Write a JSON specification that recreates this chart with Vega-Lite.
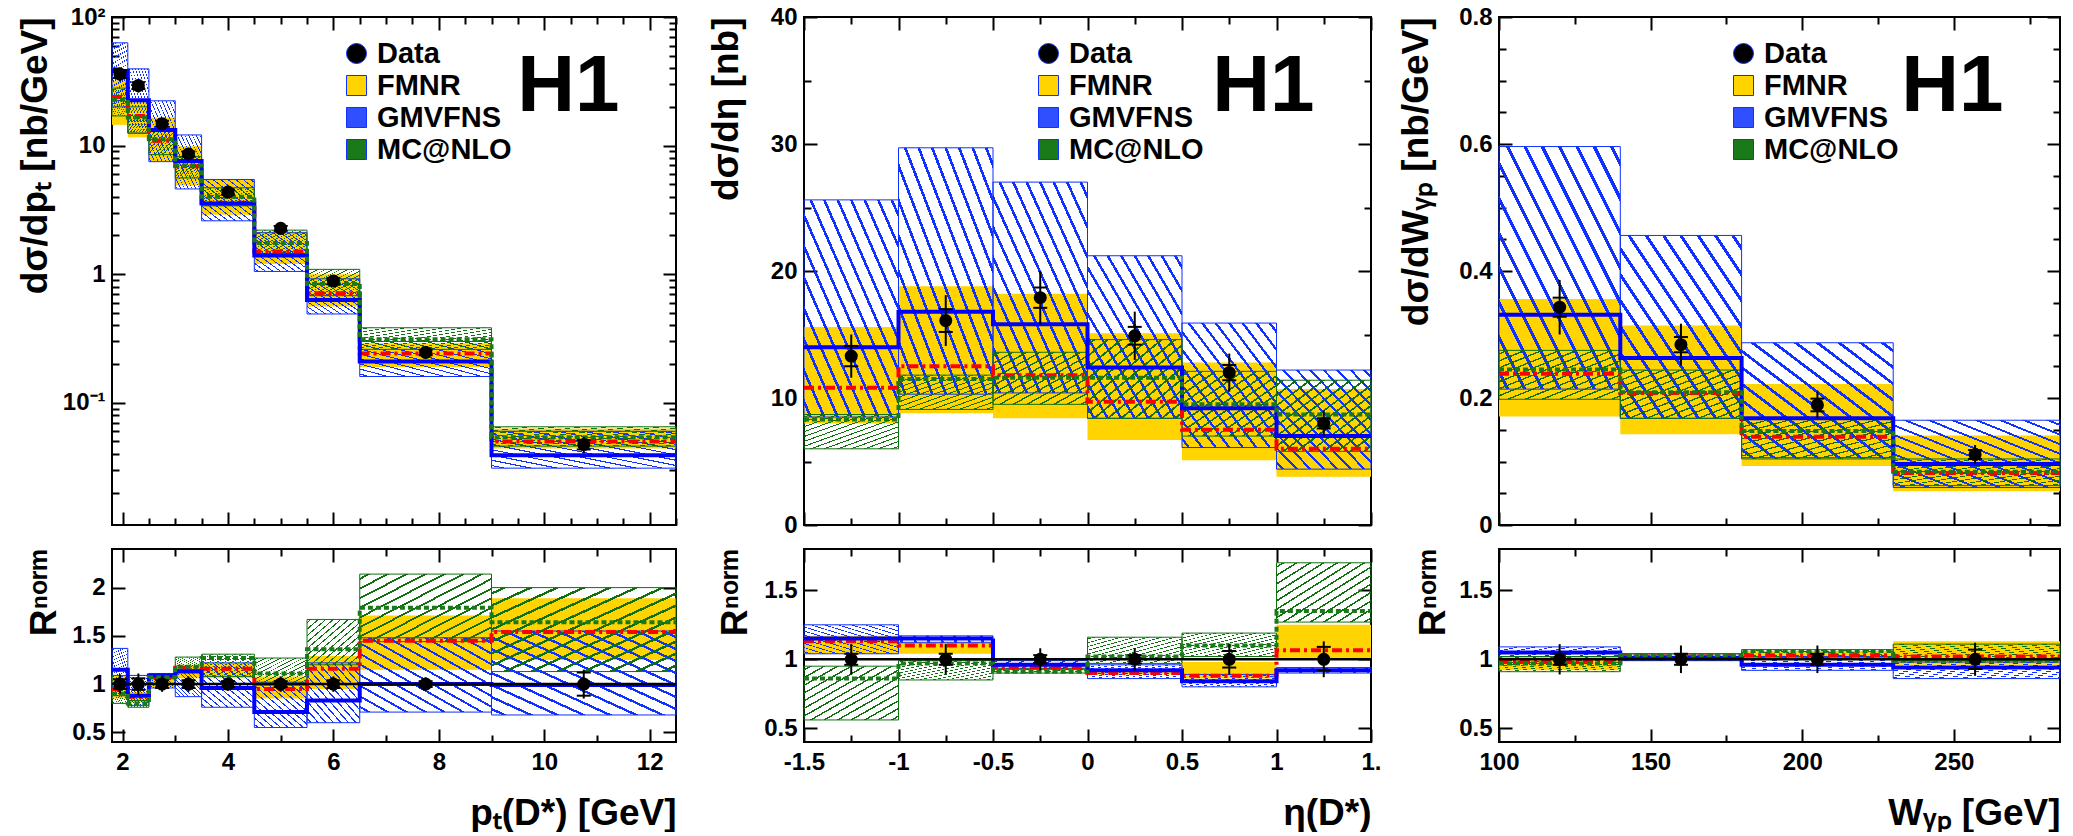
{
"$schema":"https://vega.github.io/schema/vega-lite/v6.json",
"background":"white",
"padding":{"left":15,"top":4,"right":0,"bottom":0},
"config":{
 "view":{"stroke":"black","strokeWidth":2},
 "axis":{"domain":false,"ticks":false,"grid":true,"gridColor":"black","gridWidth":2,"gridOpacity":1,"zindex":1,"labelFont":"Liberation Sans","labelFontWeight":"bold","labelFontSize":24,"labelColor":"black","labelPadding":8,"titleFont":"Liberation Sans","titleFontWeight":"bold","titleFontSize":37,"titleColor":"black","labelOverlap":false,"labelFlush":false},
 "legend":{"labelFont":"Liberation Sans","labelFontWeight":"bold","labelFontSize":29,"labelColor":"black","symbolSize":400,"rowPadding":2,"padding":0,"labelOffset":6,"symbolStrokeWidth":0},
 "rect":{"stroke":"#1030ff","strokeWidth":1,"color":{"gradient":"linear","x1":0,"y1":1,"x2":1,"y2":0,"stops":[
         {"offset":0.0282,"color":"rgba(0,0,0,0)"},{"offset":0.0282,"color":"#1030ff"},{"offset":0.0432,"color":"#1030ff"},{"offset":0.0432,"color":"rgba(0,0,0,0)"},
         {"offset":0.0996,"color":"rgba(0,0,0,0)"},{"offset":0.0996,"color":"#1030ff"},{"offset":0.1146,"color":"#1030ff"},{"offset":0.1146,"color":"rgba(0,0,0,0)"},
         {"offset":0.1711,"color":"rgba(0,0,0,0)"},{"offset":0.1711,"color":"#1030ff"},{"offset":0.1861,"color":"#1030ff"},{"offset":0.1861,"color":"rgba(0,0,0,0)"},
         {"offset":0.2425,"color":"rgba(0,0,0,0)"},{"offset":0.2425,"color":"#1030ff"},{"offset":0.2575,"color":"#1030ff"},{"offset":0.2575,"color":"rgba(0,0,0,0)"},
         {"offset":0.3139,"color":"rgba(0,0,0,0)"},{"offset":0.3139,"color":"#1030ff"},{"offset":0.3289,"color":"#1030ff"},{"offset":0.3289,"color":"rgba(0,0,0,0)"},
         {"offset":0.3854,"color":"rgba(0,0,0,0)"},{"offset":0.3854,"color":"#1030ff"},{"offset":0.4004,"color":"#1030ff"},{"offset":0.4004,"color":"rgba(0,0,0,0)"},
         {"offset":0.4568,"color":"rgba(0,0,0,0)"},{"offset":0.4568,"color":"#1030ff"},{"offset":0.4718,"color":"#1030ff"},{"offset":0.4718,"color":"rgba(0,0,0,0)"},
         {"offset":0.5282,"color":"rgba(0,0,0,0)"},{"offset":0.5282,"color":"#1030ff"},{"offset":0.5432,"color":"#1030ff"},{"offset":0.5432,"color":"rgba(0,0,0,0)"},
         {"offset":0.5996,"color":"rgba(0,0,0,0)"},{"offset":0.5996,"color":"#1030ff"},{"offset":0.6146,"color":"#1030ff"},{"offset":0.6146,"color":"rgba(0,0,0,0)"},
         {"offset":0.6711,"color":"rgba(0,0,0,0)"},{"offset":0.6711,"color":"#1030ff"},{"offset":0.6861,"color":"#1030ff"},{"offset":0.6861,"color":"rgba(0,0,0,0)"},
         {"offset":0.7425,"color":"rgba(0,0,0,0)"},{"offset":0.7425,"color":"#1030ff"},{"offset":0.7575,"color":"#1030ff"},{"offset":0.7575,"color":"rgba(0,0,0,0)"},
         {"offset":0.8139,"color":"rgba(0,0,0,0)"},{"offset":0.8139,"color":"#1030ff"},{"offset":0.8289,"color":"#1030ff"},{"offset":0.8289,"color":"rgba(0,0,0,0)"},
         {"offset":0.8854,"color":"rgba(0,0,0,0)"},{"offset":0.8854,"color":"#1030ff"},{"offset":0.9004,"color":"#1030ff"},{"offset":0.9004,"color":"rgba(0,0,0,0)"},
         {"offset":0.9568,"color":"rgba(0,0,0,0)"},{"offset":0.9568,"color":"#1030ff"},{"offset":0.9718,"color":"#1030ff"},{"offset":0.9718,"color":"rgba(0,0,0,0)"}]}},
 "bar":{"stroke":"#107010","strokeWidth":1,"color":{"gradient":"linear","x1":0,"y1":0,"x2":1,"y2":1,"stops":[
         {"offset":0.0282,"color":"rgba(0,0,0,0)"},{"offset":0.0282,"color":"#107010"},{"offset":0.0432,"color":"#107010"},{"offset":0.0432,"color":"rgba(0,0,0,0)"},
         {"offset":0.0996,"color":"rgba(0,0,0,0)"},{"offset":0.0996,"color":"#107010"},{"offset":0.1146,"color":"#107010"},{"offset":0.1146,"color":"rgba(0,0,0,0)"},
         {"offset":0.1711,"color":"rgba(0,0,0,0)"},{"offset":0.1711,"color":"#107010"},{"offset":0.1861,"color":"#107010"},{"offset":0.1861,"color":"rgba(0,0,0,0)"},
         {"offset":0.2425,"color":"rgba(0,0,0,0)"},{"offset":0.2425,"color":"#107010"},{"offset":0.2575,"color":"#107010"},{"offset":0.2575,"color":"rgba(0,0,0,0)"},
         {"offset":0.3139,"color":"rgba(0,0,0,0)"},{"offset":0.3139,"color":"#107010"},{"offset":0.3289,"color":"#107010"},{"offset":0.3289,"color":"rgba(0,0,0,0)"},
         {"offset":0.3854,"color":"rgba(0,0,0,0)"},{"offset":0.3854,"color":"#107010"},{"offset":0.4004,"color":"#107010"},{"offset":0.4004,"color":"rgba(0,0,0,0)"},
         {"offset":0.4568,"color":"rgba(0,0,0,0)"},{"offset":0.4568,"color":"#107010"},{"offset":0.4718,"color":"#107010"},{"offset":0.4718,"color":"rgba(0,0,0,0)"},
         {"offset":0.5282,"color":"rgba(0,0,0,0)"},{"offset":0.5282,"color":"#107010"},{"offset":0.5432,"color":"#107010"},{"offset":0.5432,"color":"rgba(0,0,0,0)"},
         {"offset":0.5996,"color":"rgba(0,0,0,0)"},{"offset":0.5996,"color":"#107010"},{"offset":0.6146,"color":"#107010"},{"offset":0.6146,"color":"rgba(0,0,0,0)"},
         {"offset":0.6711,"color":"rgba(0,0,0,0)"},{"offset":0.6711,"color":"#107010"},{"offset":0.6861,"color":"#107010"},{"offset":0.6861,"color":"rgba(0,0,0,0)"},
         {"offset":0.7425,"color":"rgba(0,0,0,0)"},{"offset":0.7425,"color":"#107010"},{"offset":0.7575,"color":"#107010"},{"offset":0.7575,"color":"rgba(0,0,0,0)"},
         {"offset":0.8139,"color":"rgba(0,0,0,0)"},{"offset":0.8139,"color":"#107010"},{"offset":0.8289,"color":"#107010"},{"offset":0.8289,"color":"rgba(0,0,0,0)"},
         {"offset":0.8854,"color":"rgba(0,0,0,0)"},{"offset":0.8854,"color":"#107010"},{"offset":0.9004,"color":"#107010"},{"offset":0.9004,"color":"rgba(0,0,0,0)"},
         {"offset":0.9568,"color":"rgba(0,0,0,0)"},{"offset":0.9568,"color":"#107010"},{"offset":0.9718,"color":"#107010"},{"offset":0.9718,"color":"rgba(0,0,0,0)"}]}}
},
"datasets":{
 "ptT":[
  {"b":1,"x1":1.8,"x2":2.1,"model":"FMNR","lo":14.5,"c":23.9,"hi":32},
  {"b":2,"x1":2.1,"x2":2.5,"model":"FMNR","lo":11.6,"c":17,"hi":22},
  {"b":3,"x1":2.5,"x2":3,"model":"FMNR","lo":7.6,"c":10.9,"hi":16.5},
  {"b":4,"x1":3,"x2":3.5,"model":"FMNR","lo":4.9,"c":6.9,"hi":9.9},
  {"b":5,"x1":3.5,"x2":4.5,"model":"FMNR","lo":2.9,"c":3.6,"hi":5.4},
  {"b":6,"x1":4.5,"x2":5.5,"model":"FMNR","lo":1.2,"c":1.5,"hi":2.15},
  {"b":7,"x1":5.5,"x2":6.5,"model":"FMNR","lo":0.56,"c":0.71,"hi":1.0},
  {"b":8,"x1":6.5,"x2":9,"model":"FMNR","lo":0.19,"c":0.242,"hi":0.29},
  {"b":9,"x1":9,"x2":12.5,"model":"FMNR","lo":0.044,"c":0.05,"hi":0.063},
  {"b":1,"x1":1.8,"x2":2.1,"model":"GMVFNS","lo":20,"c":38,"hi":63},
  {"b":2,"x1":2.1,"x2":2.5,"model":"GMVFNS","lo":12.5,"c":22.5,"hi":39.5},
  {"b":3,"x1":2.5,"x2":3,"model":"GMVFNS","lo":7.5,"c":13.2,"hi":22.3},
  {"b":4,"x1":3,"x2":3.5,"model":"GMVFNS","lo":4.6,"c":7.6,"hi":12.1},
  {"b":5,"x1":3.5,"x2":4.5,"model":"GMVFNS","lo":2.6,"c":3.55,"hi":5.45},
  {"b":6,"x1":4.5,"x2":5.5,"model":"GMVFNS","lo":1.05,"c":1.4,"hi":2.1},
  {"b":7,"x1":5.5,"x2":6.5,"model":"GMVFNS","lo":0.49,"c":0.63,"hi":0.92},
  {"b":8,"x1":6.5,"x2":9,"model":"GMVFNS","lo":0.16,"c":0.209,"hi":0.3},
  {"b":9,"x1":9,"x2":12.5,"model":"GMVFNS","lo":0.031,"c":0.039,"hi":0.06},
  {"b":1,"x1":1.8,"x2":2.1,"model":"MC@NLO","lo":17,"c":22.7,"hi":28},
  {"b":2,"x1":2.1,"x2":2.5,"model":"MC@NLO","lo":12.5,"c":16.5,"hi":20},
  {"b":3,"x1":2.5,"x2":3,"model":"MC@NLO","lo":8.5,"c":11.2,"hi":13.5},
  {"b":4,"x1":3,"x2":3.5,"model":"MC@NLO","lo":5.6,"c":7.0,"hi":8.2},
  {"b":5,"x1":3.5,"x2":4.5,"model":"MC@NLO","lo":3.4,"c":4.0,"hi":4.7},
  {"b":6,"x1":4.5,"x2":5.5,"model":"MC@NLO","lo":1.45,"c":1.75,"hi":2.2},
  {"b":7,"x1":5.5,"x2":6.5,"model":"MC@NLO","lo":0.68,"c":0.84,"hi":1.09},
  {"b":8,"x1":6.5,"x2":9,"model":"MC@NLO","lo":0.26,"c":0.312,"hi":0.383},
  {"b":9,"x1":9,"x2":12.5,"model":"MC@NLO","lo":0.046,"c":0.054,"hi":0.065}
 ],
 "ptD":[
  {"model":"Data","x":1.95,"y":36,"lo":31.5,"hi":40.5,"slo":33.5,"shi":38.5},
  {"model":"Data","x":2.3,"y":29.3,"lo":25.8,"hi":32.8,"slo":27.5,"shi":31.1},
  {"model":"Data","x":2.75,"y":14.8,"lo":13.2,"hi":16.4,"slo":14.0,"shi":15.6},
  {"model":"Data","x":3.25,"y":8.6,"lo":7.7,"hi":9.5,"slo":8.2,"shi":9.0},
  {"model":"Data","x":4.0,"y":4.35,"lo":3.9,"hi":4.8,"slo":4.15,"shi":4.55},
  {"model":"Data","x":5.0,"y":2.27,"lo":2.03,"hi":2.51,"slo":2.17,"shi":2.37},
  {"model":"Data","x":6.0,"y":0.885,"lo":0.795,"hi":0.975,"slo":0.835,"shi":0.935},
  {"model":"Data","x":7.75,"y":0.246,"lo":0.22,"hi":0.272,"slo":0.234,"shi":0.258},
  {"model":"Data","x":10.75,"y":0.0473,"lo":0.0403,"hi":0.0543,"slo":0.0433,"shi":0.0513}
 ],
 "ptR":[
  {"b":1,"x1":1.8,"x2":2.1,"model":"FMNR","lo":0.85,"c":0.95,"hi":1.09},
  {"b":2,"x1":2.1,"x2":2.5,"model":"FMNR","lo":0.81,"c":0.87,"hi":0.92},
  {"b":3,"x1":2.5,"x2":3,"model":"FMNR","lo":0.97,"c":1.07,"hi":1.1},
  {"b":4,"x1":3,"x2":3.5,"model":"FMNR","lo":1.06,"c":1.17,"hi":1.2},
  {"b":5,"x1":3.5,"x2":4.5,"model":"FMNR","lo":1.06,"c":1.16,"hi":1.22},
  {"b":6,"x1":4.5,"x2":5.5,"model":"FMNR","lo":0.85,"c":0.95,"hi":1.08},
  {"b":7,"x1":5.5,"x2":6.5,"model":"FMNR","lo":0.95,"c":1.16,"hi":1.29},
  {"b":8,"x1":6.5,"x2":9,"model":"FMNR","lo":1.15,"c":1.45,"hi":1.71},
  {"b":9,"x1":9,"x2":12.5,"model":"FMNR","lo":1.25,"c":1.54,"hi":1.89},
  {"b":1,"x1":1.8,"x2":2.1,"model":"GMVFNS","lo":0.88,"c":1.15,"hi":1.37},
  {"b":2,"x1":2.1,"x2":2.5,"model":"GMVFNS","lo":0.78,"c":0.88,"hi":1.09},
  {"b":3,"x1":2.5,"x2":3,"model":"GMVFNS","lo":0.96,"c":1.09,"hi":1.11},
  {"b":4,"x1":3,"x2":3.5,"model":"GMVFNS","lo":0.87,"c":1.13,"hi":1.15},
  {"b":5,"x1":3.5,"x2":4.5,"model":"GMVFNS","lo":0.76,"c":0.96,"hi":1.22},
  {"b":6,"x1":4.5,"x2":5.5,"model":"GMVFNS","lo":0.55,"c":0.71,"hi":1.02},
  {"b":7,"x1":5.5,"x2":6.5,"model":"GMVFNS","lo":0.6,"c":0.83,"hi":1.22},
  {"b":8,"x1":6.5,"x2":9,"model":"GMVFNS","lo":0.71,"c":1.0,"hi":1.48},
  {"b":9,"x1":9,"x2":12.5,"model":"GMVFNS","lo":0.68,"c":0.99,"hi":1.55},
  {"b":1,"x1":1.8,"x2":2.1,"model":"MC@NLO","lo":0.8,"c":0.9,"hi":1.09},
  {"b":2,"x1":2.1,"x2":2.5,"model":"MC@NLO","lo":0.76,"c":0.8,"hi":0.83},
  {"b":3,"x1":2.5,"x2":3,"model":"MC@NLO","lo":1.0,"c":1.07,"hi":1.1},
  {"b":4,"x1":3,"x2":3.5,"model":"MC@NLO","lo":1.12,"c":1.18,"hi":1.28},
  {"b":5,"x1":3.5,"x2":4.5,"model":"MC@NLO","lo":1.08,"c":1.27,"hi":1.31},
  {"b":6,"x1":4.5,"x2":5.5,"model":"MC@NLO","lo":0.99,"c":1.11,"hi":1.27},
  {"b":7,"x1":5.5,"x2":6.5,"model":"MC@NLO","lo":1.2,"c":1.36,"hi":1.67},
  {"b":8,"x1":6.5,"x2":9,"model":"MC@NLO","lo":1.44,"c":1.79,"hi":2.14},
  {"b":9,"x1":9,"x2":12.5,"model":"MC@NLO","lo":1.13,"c":1.64,"hi":2.0}
 ],
 "ptRD":[
  {"x":1.95,"y":1,"lo":0.9,"hi":1.1,"slo":0.95,"shi":1.05},
  {"x":2.3,"y":1,"lo":0.89,"hi":1.11,"slo":0.94,"shi":1.06},
  {"x":2.75,"y":1,"lo":0.92,"hi":1.08,"slo":0.96,"shi":1.04},
  {"x":3.25,"y":1,"lo":0.92,"hi":1.08,"slo":0.96,"shi":1.04},
  {"x":4.0,"y":1,"lo":0.93,"hi":1.07,"slo":0.97,"shi":1.03},
  {"x":5.0,"y":1,"lo":0.92,"hi":1.08,"slo":0.97,"shi":1.03},
  {"x":6.0,"y":1,"lo":0.92,"hi":1.08,"slo":0.96,"shi":1.04},
  {"x":7.75,"y":1,"lo":0.93,"hi":1.07,"slo":0.97,"shi":1.03},
  {"x":10.75,"y":1,"lo":0.85,"hi":1.15,"slo":0.88,"shi":1.12}
 ],
 "etaT":[
  {"b":1,"x1":-1.5,"x2":-1,"model":"FMNR","lo":8.0,"c":10.8,"hi":15.6},
  {"b":2,"x1":-1,"x2":-0.5,"model":"FMNR","lo":8.8,"c":12.5,"hi":18.8},
  {"b":3,"x1":-0.5,"x2":0,"model":"FMNR","lo":8.4,"c":11.8,"hi":18.2},
  {"b":4,"x1":0,"x2":0.5,"model":"FMNR","lo":6.7,"c":9.7,"hi":15.1},
  {"b":5,"x1":0.5,"x2":1,"model":"FMNR","lo":5.1,"c":7.5,"hi":12.8},
  {"b":6,"x1":1,"x2":1.5,"model":"FMNR","lo":3.8,"c":6.0,"hi":10.7},
  {"b":1,"x1":-1.5,"x2":-1,"model":"GMVFNS","lo":8.5,"c":14.0,"hi":25.6},
  {"b":2,"x1":-1,"x2":-0.5,"model":"GMVFNS","lo":10.3,"c":16.8,"hi":29.7},
  {"b":3,"x1":-0.5,"x2":0,"model":"GMVFNS","lo":10.4,"c":15.8,"hi":27.0},
  {"b":4,"x1":0,"x2":0.5,"model":"GMVFNS","lo":8.4,"c":12.4,"hi":21.2},
  {"b":5,"x1":0.5,"x2":1,"model":"GMVFNS","lo":6.1,"c":9.2,"hi":15.9},
  {"b":6,"x1":1,"x2":1.5,"model":"GMVFNS","lo":4.4,"c":7.0,"hi":12.2},
  {"b":1,"x1":-1.5,"x2":-1,"model":"MC@NLO","lo":6.0,"c":8.3,"hi":8.7},
  {"b":2,"x1":-1,"x2":-0.5,"model":"MC@NLO","lo":9.1,"c":11.5,"hi":11.8},
  {"b":3,"x1":-0.5,"x2":0,"model":"MC@NLO","lo":9.5,"c":11.6,"hi":13.6},
  {"b":4,"x1":0,"x2":0.5,"model":"MC@NLO","lo":8.4,"c":11.6,"hi":14.6},
  {"b":5,"x1":0.5,"x2":1,"model":"MC@NLO","lo":7.0,"c":9.5,"hi":12.1},
  {"b":6,"x1":1,"x2":1.5,"model":"MC@NLO","lo":5.8,"c":8.7,"hi":11.4}
 ],
 "etaD":[
  {"model":"Data","x":-1.25,"y":13.3,"lo":11.6,"hi":15.0,"slo":12.5,"shi":14.1},
  {"model":"Data","x":-0.75,"y":16.1,"lo":14.1,"hi":18.1,"slo":15.2,"shi":17.0},
  {"model":"Data","x":-0.25,"y":17.9,"lo":15.8,"hi":20.0,"slo":17.1,"shi":18.7},
  {"model":"Data","x":0.25,"y":14.9,"lo":13.0,"hi":16.8,"slo":14.2,"shi":15.6},
  {"model":"Data","x":0.75,"y":12.0,"lo":10.5,"hi":13.5,"slo":11.4,"shi":12.6},
  {"model":"Data","x":1.25,"y":8.0,"lo":7.0,"hi":9.0,"slo":7.6,"shi":8.4}
 ],
 "etaR":[
  {"b":1,"x1":-1.5,"x2":-1,"model":"FMNR","lo":1.04,"c":1.13,"hi":1.17},
  {"b":2,"x1":-1,"x2":-0.5,"model":"FMNR","lo":1.04,"c":1.1,"hi":1.13},
  {"b":3,"x1":-0.5,"x2":0,"model":"FMNR","lo":0.92,"c":0.94,"hi":0.97},
  {"b":4,"x1":0,"x2":0.5,"model":"FMNR","lo":0.89,"c":0.9,"hi":0.93},
  {"b":5,"x1":0.5,"x2":1,"model":"FMNR","lo":0.86,"c":0.88,"hi":0.98},
  {"b":6,"x1":1,"x2":1.5,"model":"FMNR","lo":1.01,"c":1.065,"hi":1.25},
  {"b":1,"x1":-1.5,"x2":-1,"model":"GMVFNS","lo":1.04,"c":1.15,"hi":1.25},
  {"b":2,"x1":-1,"x2":-0.5,"model":"GMVFNS","lo":1.12,"c":1.15,"hi":1.17},
  {"b":3,"x1":-0.5,"x2":0,"model":"GMVFNS","lo":0.93,"c":0.96,"hi":0.99},
  {"b":4,"x1":0,"x2":0.5,"model":"GMVFNS","lo":0.86,"c":0.92,"hi":0.96},
  {"b":5,"x1":0.5,"x2":1,"model":"GMVFNS","lo":0.8,"c":0.84,"hi":0.89},
  {"b":6,"x1":1,"x2":1.5,"model":"GMVFNS","lo":0.9,"c":0.92,"hi":0.94},
  {"b":1,"x1":-1.5,"x2":-1,"model":"MC@NLO","lo":0.56,"c":0.86,"hi":0.95},
  {"b":2,"x1":-1,"x2":-0.5,"model":"MC@NLO","lo":0.85,"c":0.97,"hi":0.99},
  {"b":3,"x1":-0.5,"x2":0,"model":"MC@NLO","lo":0.9,"c":0.91,"hi":0.93},
  {"b":4,"x1":0,"x2":0.5,"model":"MC@NLO","lo":0.97,"c":1.02,"hi":1.16},
  {"b":5,"x1":0.5,"x2":1,"model":"MC@NLO","lo":1.02,"c":1.1,"hi":1.19},
  {"b":6,"x1":1,"x2":1.5,"model":"MC@NLO","lo":1.27,"c":1.35,"hi":1.7}
 ],
 "etaRD":[
  {"x":-1.25,"y":1,"lo":0.89,"hi":1.11,"slo":0.96,"shi":1.04},
  {"x":-0.75,"y":1,"lo":0.89,"hi":1.11,"slo":0.96,"shi":1.04},
  {"x":-0.25,"y":1,"lo":0.92,"hi":1.08,"slo":0.97,"shi":1.03},
  {"x":0.25,"y":1,"lo":0.92,"hi":1.08,"slo":0.97,"shi":1.03},
  {"x":0.75,"y":1,"lo":0.89,"hi":1.11,"slo":0.94,"shi":1.06},
  {"x":1.25,"y":1,"lo":0.87,"hi":1.13,"slo":0.92,"shi":1.09}
 ],
 "wT":[
  {"b":1,"x1":100,"x2":140,"model":"FMNR","lo":0.171,"c":0.238,"hi":0.356},
  {"b":2,"x1":140,"x2":180,"model":"FMNR","lo":0.143,"c":0.208,"hi":0.314},
  {"b":3,"x1":180,"x2":230,"model":"FMNR","lo":0.093,"c":0.139,"hi":0.222},
  {"b":4,"x1":230,"x2":285,"model":"FMNR","lo":0.053,"c":0.082,"hi":0.141},
  {"b":1,"x1":100,"x2":140,"model":"GMVFNS","lo":0.214,"c":0.331,"hi":0.596},
  {"b":2,"x1":140,"x2":180,"model":"GMVFNS","lo":0.168,"c":0.263,"hi":0.456},
  {"b":3,"x1":180,"x2":230,"model":"GMVFNS","lo":0.106,"c":0.168,"hi":0.287},
  {"b":4,"x1":230,"x2":285,"model":"GMVFNS","lo":0.059,"c":0.096,"hi":0.165},
  {"b":1,"x1":100,"x2":140,"model":"MC@NLO","lo":0.198,"c":0.245,"hi":0.275},
  {"b":2,"x1":140,"x2":180,"model":"MC@NLO","lo":0.168,"c":0.209,"hi":0.244},
  {"b":3,"x1":180,"x2":230,"model":"MC@NLO","lo":0.104,"c":0.148,"hi":0.168},
  {"b":4,"x1":230,"x2":285,"model":"MC@NLO","lo":0.062,"c":0.084,"hi":0.104}
 ],
 "wD":[
  {"model":"Data","x":120,"y":0.343,"lo":0.3,"hi":0.386,"slo":0.328,"shi":0.358},
  {"model":"Data","x":160,"y":0.284,"lo":0.251,"hi":0.317,"slo":0.272,"shi":0.296},
  {"model":"Data","x":205,"y":0.189,"lo":0.168,"hi":0.21,"slo":0.179,"shi":0.199},
  {"model":"Data","x":257,"y":0.111,"lo":0.096,"hi":0.126,"slo":0.104,"shi":0.118}
 ],
 "wR":[
  {"b":1,"x1":100,"x2":140,"model":"FMNR","lo":0.92,"c":0.98,"hi":1.02},
  {"b":2,"x1":140,"x2":180,"model":"FMNR","lo":1.01,"c":1.02,"hi":1.03},
  {"b":3,"x1":180,"x2":230,"model":"FMNR","lo":1.01,"c":1.03,"hi":1.06},
  {"b":4,"x1":230,"x2":285,"model":"FMNR","lo":0.96,"c":1.02,"hi":1.13},
  {"b":1,"x1":100,"x2":140,"model":"GMVFNS","lo":1.02,"c":1.05,"hi":1.09},
  {"b":2,"x1":140,"x2":180,"model":"GMVFNS","lo":0.99,"c":1.01,"hi":1.04},
  {"b":3,"x1":180,"x2":230,"model":"GMVFNS","lo":0.92,"c":0.96,"hi":1.02},
  {"b":4,"x1":230,"x2":285,"model":"GMVFNS","lo":0.86,"c":0.94,"hi":0.98},
  {"b":1,"x1":100,"x2":140,"model":"MC@NLO","lo":0.91,"c":0.97,"hi":1.02},
  {"b":2,"x1":140,"x2":180,"model":"MC@NLO","lo":1.01,"c":1.03,"hi":1.04},
  {"b":3,"x1":180,"x2":230,"model":"MC@NLO","lo":1.01,"c":1.06,"hi":1.07},
  {"b":4,"x1":230,"x2":285,"model":"MC@NLO","lo":0.99,"c":0.99,"hi":1.11}
 ],
 "wRD":[
  {"x":120,"y":1,"lo":0.89,"hi":1.11,"slo":0.96,"shi":1.04},
  {"x":160,"y":1,"lo":0.9,"hi":1.1,"slo":0.96,"shi":1.04},
  {"x":205,"y":1,"lo":0.9,"hi":1.1,"slo":0.96,"shi":1.04},
  {"x":257,"y":1,"lo":0.88,"hi":1.12,"slo":0.93,"shi":1.07}
 ]
},
"columns":3,
"align":"each",
"bounds":"flush",
"spacing":{"row":24,"column":128},
"resolve":{"scale":{"fill":"shared","shape":"shared","stroke":"shared","strokeDash":"shared"},"legend":{"fill":"independent","shape":"independent"}},
"concat":[
  {"width":564,"height":508,"resolve":{"axis":{"x":"independent","y":"independent"}},
   "layer":[
    {"data":{"name":"ptT"},"transform":[{"filter":"datum.model==='FMNR'"}],"mark":{"type":"rect","strokeWidth":0},
     "encoding":{
      "x":{"field":"x1","type":"quantitative","scale":{"domain":[1.8,12.5],"nice":false,"zero":false},"axis":{"orient":"bottom","values":[2,2.5,3,3.5,4,4.5,5,5.5,6,6.5,7,7.5,8,8.5,9,9.5,10,10.5,11,11.5,12,12.5],"labels":false,"title":null,"gridDash":{"condition":{"test":"datum.value % 2 === 0","value":[13,482]},"value":[7,494]}}},
      "x2":{"field":"x2"},
      "y":{"field":"lo","type":"quantitative","scale":{"type":"log","domain":[0.0112,100],"nice":false},"axis":{"orient":"left","values":[0.02,0.03,0.04,0.05,0.06,0.07,0.08,0.09,0.1,0.2,0.3,0.4,0.5,0.6,0.7,0.8,0.9,1,2,3,4,5,6,7,8,9,10,20,30,40,50,60,70,80,90,100],"labelExpr":"datum.value===100?'10²':datum.value===10?'10':datum.value===1?'1':datum.value===0.1?'10⁻¹':''","labelPadding":7,"labelOverlap":false,"gridDash":{"condition":{"test":"datum.value===0.1||datum.value===1||datum.value===10||datum.value===100","value":[13,538]},"value":[7,550]},"title":"dσ/dpₜ [nb/GeV]","titleX":-66,"titleY":0,"titleAngle":270,"titleAlign":"right","titleBaseline":"alphabetic"}},
      "y2":{"field":"hi"},
      "fill":{"field":"model","type":"nominal","scale":{"domain":["Data","FMNR","GMVFNS","MC@NLO"],"range":["black","#FFD400","#3050ff","#1a7a1a"]},"legend":{"orient":"none","legendX":230,"legendY":22,"title":null}}
     }},
    {"data":{"name":"ptT"},"transform":[{"filter":"datum.model==='GMVFNS'"}],"mark":{"type":"rect"},
     "encoding":{"x":{"field":"x1","type":"quantitative","axis":null},"x2":{"field":"x2"},"y":{"field":"lo","type":"quantitative","axis":null},"y2":{"field":"hi"}}},
    {"data":{"name":"ptT"},"transform":[{"filter":"datum.model==='MC@NLO'"}],"mark":{"type":"bar"},
     "encoding":{"x":{"field":"x1","type":"quantitative","axis":null},"x2":{"field":"x2"},"y":{"field":"lo","type":"quantitative","axis":null},"y2":{"field":"hi"}}},
    {"data":{"name":"ptT"},"transform":[{"fold":["x1","x2"],"as":["edge","xe"]}],"mark":{"type":"line","strokeWidth":4},
     "encoding":{"x":{"field":"xe","type":"quantitative","axis":null},"y":{"field":"c","type":"quantitative","axis":null},
      "stroke":{"field":"model","type":"nominal","scale":{"domain":["FMNR","GMVFNS","MC@NLO"],"range":["#ff0000","#0000ff","#1a7a1a"]},"legend":null},
      "strokeDash":{"field":"model","type":"nominal","scale":{"domain":["FMNR","GMVFNS","MC@NLO"],"range":[[10,4,3,4],[1,0],[5,3]]},"legend":null},
      "order":[{"field":"b","type":"quantitative"},{"field":"edge","type":"nominal"}]}},
    {"data":{"name":"ptD"},"mark":{"type":"rule","color":"black","strokeWidth":2},
     "encoding":{
      "x":{"field":"x","type":"quantitative","axis":{"orient":"top","values":[2],"labels":false,"grid":false,"title":"H1","titleX":507,"titleY":93,"titleAlign":"right","titleBaseline":"alphabetic","titleAngle":0,"titleFontSize":80}},
      "y":{"field":"lo","type":"quantitative","axis":null},
      "y2":{"field":"hi"}}},
    {"data":{"name":"ptD"},"transform":[{"fold":["slo","shi"],"as":["k","sv"]}],"mark":{"type":"point","shape":"stroke","size":196,"stroke":"black","strokeWidth":2,"opacity":1},
     "encoding":{"x":{"field":"x","type":"quantitative","axis":null},"y":{"field":"sv","type":"quantitative","axis":null}}},
    {"data":{"name":"ptD"},"mark":{"type":"point","filled":true,"size":170,"opacity":1},
     "encoding":{"x":{"field":"x","type":"quantitative","axis":null},"y":{"field":"y","type":"quantitative","axis":null},
      "fill":{"field":"model","type":"nominal","legend":{"orient":"none","legendX":230,"legendY":22,"title":null}},
      "shape":{"field":"model","type":"nominal","scale":{"domain":["Data","FMNR","GMVFNS","MC@NLO"],"range":["circle","square","square","square"]},"legend":{"orient":"none","legendX":230,"legendY":22,"title":null}}}}
   ]},
   {"width":567,"height":508,"resolve":{"axis":{"x":"independent","y":"independent"}},
    "layer":[
     {"data":{"name":"etaT"},"transform":[{"filter":"datum.model==='FMNR'"}],"mark":{"type":"rect","strokeWidth":0},
      "encoding":{
       "x":{"field":"x1","type":"quantitative","scale":{"domain":[-1.5,1.5],"nice":false,"zero":false},"axis":{"orient":"bottom","values":[-1.5,-1.25,-1,-0.75,-0.5,-0.25,0,0.25,0.5,0.75,1,1.25,1.5],"labels":false,"title":null,"gridDash":{"condition":{"test":"datum.value*2 % 1 === 0","value":[13,482]},"value":[7,494]}}},
       "x2":{"field":"x2"},
       "y":{"field":"lo","type":"quantitative","scale":{"domain":[0,40],"nice":false,"zero":false},"axis":{"orient":"left","values":[0,5,10,15,20,25,30,35,40],"format":"d","labelExpr":"datum.value % 10 === 0 ? datum.label : ''","labelPadding":7,"labelOverlap":false,"gridDash":{"condition":{"test":"datum.value % 10 === 0","value":[13,541]},"value":[7,553]},"title":"dσ/dη [nb]","titleX":-67,"titleY":0,"titleAngle":270,"titleAlign":"right","titleBaseline":"alphabetic"}},
       "y2":{"field":"hi"},
       "fill":{"field":"model","type":"nominal","legend":{"orient":"none","legendX":230,"legendY":22,"title":null}}}},
     {"data":{"name":"etaT"},"transform":[{"filter":"datum.model==='GMVFNS'"}],"mark":{"type":"rect"},
      "encoding":{"x":{"field":"x1","type":"quantitative","axis":null},"x2":{"field":"x2"},"y":{"field":"lo","type":"quantitative","axis":null},"y2":{"field":"hi"}}},
     {"data":{"name":"etaT"},"transform":[{"filter":"datum.model==='MC@NLO'"}],"mark":{"type":"bar"},
      "encoding":{"x":{"field":"x1","type":"quantitative","axis":null},"x2":{"field":"x2"},"y":{"field":"lo","type":"quantitative","axis":null},"y2":{"field":"hi"}}},
     {"data":{"name":"etaT"},"transform":[{"fold":["x1","x2"],"as":["edge","xe"]}],"mark":{"type":"line","strokeWidth":4},
      "encoding":{"x":{"field":"xe","type":"quantitative","axis":null},"y":{"field":"c","type":"quantitative","axis":null},
       "stroke":{"field":"model","type":"nominal","scale":{"domain":["FMNR","GMVFNS","MC@NLO"],"range":["#ff0000","#0000ff","#1a7a1a"]},"legend":null},
       "strokeDash":{"field":"model","type":"nominal","scale":{"domain":["FMNR","GMVFNS","MC@NLO"],"range":[[10,4,3,4],[1,0],[5,3]]},"legend":null},
       "order":[{"field":"b","type":"quantitative"},{"field":"edge","type":"nominal"}]}},
     {"data":{"name":"etaD"},"mark":{"type":"rule","color":"black","strokeWidth":2},
      "encoding":{
       "x":{"field":"x","type":"quantitative","axis":{"orient":"top","values":[0],"labels":false,"grid":false,"title":"H1","titleX":510,"titleY":93,"titleAlign":"right","titleBaseline":"alphabetic","titleAngle":0,"titleFontSize":80}},
       "y":{"field":"lo","type":"quantitative","axis":null},
       "y2":{"field":"hi"}}},
     {"data":{"name":"etaD"},"transform":[{"fold":["slo","shi"],"as":["k","sv"]}],"mark":{"type":"point","shape":"stroke","size":196,"stroke":"black","strokeWidth":2,"opacity":1},
      "encoding":{"x":{"field":"x","type":"quantitative","axis":null},"y":{"field":"sv","type":"quantitative","axis":null}}},
     {"data":{"name":"etaD"},"mark":{"type":"point","filled":true,"size":170,"opacity":1},
      "encoding":{"x":{"field":"x","type":"quantitative","axis":null},"y":{"field":"y","type":"quantitative","axis":null},
       "fill":{"field":"model","type":"nominal","legend":{"orient":"none","legendX":230,"legendY":22,"title":null}},
       "shape":{"field":"model","type":"nominal","legend":{"orient":"none","legendX":230,"legendY":22,"title":null}}}}
    ]},
   {"width":561,"height":508,"resolve":{"axis":{"x":"independent","y":"independent"}},
    "layer":[
     {"data":{"name":"wT"},"transform":[{"filter":"datum.model==='FMNR'"}],"mark":{"type":"rect","strokeWidth":0},
      "encoding":{
       "x":{"field":"x1","type":"quantitative","scale":{"domain":[100,285],"nice":false,"zero":false},"axis":{"orient":"bottom","values":[100,125,150,175,200,225,250,275],"labels":false,"title":null,"gridDash":{"condition":{"test":"datum.value % 50 === 0","value":[13,482]},"value":[7,494]}}},
       "x2":{"field":"x2"},
       "y":{"field":"lo","type":"quantitative","scale":{"domain":[0,0.8],"nice":false,"zero":false},"axis":{"orient":"left","values":[0,0.05,0.1,0.15,0.2,0.25,0.3,0.35,0.4,0.45,0.5,0.55,0.6,0.65,0.7,0.75,0.8],"format":".1~f","labelExpr":"abs(datum.value*5-round(datum.value*5))<0.001 ? datum.label : ''","labelPadding":7,"labelOverlap":false,"gridDash":{"condition":{"test":"abs(datum.value*5-round(datum.value*5))<0.001","value":[13,535]},"value":[7,547]},"title":"dσ/dWᵧₚ [nb/GeV]","titleX":-72,"titleY":0,"titleAngle":270,"titleAlign":"right","titleBaseline":"alphabetic"}},
       "y2":{"field":"hi"},
       "fill":{"field":"model","type":"nominal","legend":{"orient":"none","legendX":230,"legendY":22,"title":null}}}},
     {"data":{"name":"wT"},"transform":[{"filter":"datum.model==='GMVFNS'"}],"mark":{"type":"rect"},
      "encoding":{"x":{"field":"x1","type":"quantitative","axis":null},"x2":{"field":"x2"},"y":{"field":"lo","type":"quantitative","axis":null},"y2":{"field":"hi"}}},
     {"data":{"name":"wT"},"transform":[{"filter":"datum.model==='MC@NLO'"}],"mark":{"type":"bar"},
      "encoding":{"x":{"field":"x1","type":"quantitative","axis":null},"x2":{"field":"x2"},"y":{"field":"lo","type":"quantitative","axis":null},"y2":{"field":"hi"}}},
     {"data":{"name":"wT"},"transform":[{"fold":["x1","x2"],"as":["edge","xe"]}],"mark":{"type":"line","strokeWidth":4},
      "encoding":{"x":{"field":"xe","type":"quantitative","axis":null},"y":{"field":"c","type":"quantitative","axis":null},
       "stroke":{"field":"model","type":"nominal","scale":{"domain":["FMNR","GMVFNS","MC@NLO"],"range":["#ff0000","#0000ff","#1a7a1a"]},"legend":null},
       "strokeDash":{"field":"model","type":"nominal","scale":{"domain":["FMNR","GMVFNS","MC@NLO"],"range":[[10,4,3,4],[1,0],[5,3]]},"legend":null},
       "order":[{"field":"b","type":"quantitative"},{"field":"edge","type":"nominal"}]}},
     {"data":{"name":"wD"},"mark":{"type":"rule","color":"black","strokeWidth":2},
      "encoding":{
       "x":{"field":"x","type":"quantitative","axis":{"orient":"top","values":[150],"labels":false,"grid":false,"title":"H1","titleX":504,"titleY":93,"titleAlign":"right","titleBaseline":"alphabetic","titleAngle":0,"titleFontSize":80}},
       "y":{"field":"lo","type":"quantitative","axis":null},
       "y2":{"field":"hi"}}},
     {"data":{"name":"wD"},"transform":[{"fold":["slo","shi"],"as":["k","sv"]}],"mark":{"type":"point","shape":"stroke","size":196,"stroke":"black","strokeWidth":2,"opacity":1},
      "encoding":{"x":{"field":"x","type":"quantitative","axis":null},"y":{"field":"sv","type":"quantitative","axis":null}}},
     {"data":{"name":"wD"},"mark":{"type":"point","filled":true,"size":170,"opacity":1},
      "encoding":{"x":{"field":"x","type":"quantitative","axis":null},"y":{"field":"y","type":"quantitative","axis":null},
       "fill":{"field":"model","type":"nominal","legend":{"orient":"none","legendX":230,"legendY":22,"title":null}},
       "shape":{"field":"model","type":"nominal","legend":{"orient":"none","legendX":230,"legendY":22,"title":null}}}}
    ]},
  {"width":564,"height":193,
   "layer":[
    {"data":{"name":"ptR"},"transform":[{"filter":"datum.model==='FMNR'"}],"mark":{"type":"rect","strokeWidth":0},
     "encoding":{
      "x":{"field":"x1","type":"quantitative","scale":{"domain":[1.8,12.5],"nice":false,"zero":false},"axis":{"orient":"bottom","values":[2,2.5,3,3.5,4,4.5,5,5.5,6,6.5,7,7.5,8,8.5,9,9.5,10,10.5,11,11.5,12,12.5],"format":".1~f","labelExpr":"datum.value % 2 === 0 ? datum.label : ''","labelPadding":8,"labelOverlap":false,"gridDash":{"condition":{"test":"datum.value % 2 === 0","value":[13,167]},"value":[7,179]},"title":"pₜ(D*) [GeV]","titleX":564,"titleY":82,"titleAlign":"right","titleBaseline":"alphabetic","titleAngle":0}},
      "x2":{"field":"x2"},
      "y":{"field":"lo","type":"quantitative","scale":{"domain":[0.4,2.4],"nice":false,"zero":false},"axis":{"orient":"left","values":[0.5,1,1.5,2],"format":".1~f","labelPadding":7,"labelOverlap":false,"gridDash":[13,538],"title":"Rⁿᵒʳᵐ","titleX":-57,"titleY":0,"titleAngle":270,"titleAlign":"right","titleBaseline":"alphabetic"}},
      "y2":{"field":"hi"},
      "fill":{"field":"model","type":"nominal","legend":null}}},
    {"data":{"name":"ptR"},"transform":[{"filter":"datum.model==='GMVFNS'"}],"mark":{"type":"rect"},
     "encoding":{"x":{"field":"x1","type":"quantitative"},"x2":{"field":"x2"},"y":{"field":"lo","type":"quantitative"},"y2":{"field":"hi"}}},
    {"data":{"name":"ptR"},"transform":[{"filter":"datum.model==='MC@NLO'"}],"mark":{"type":"bar"},
     "encoding":{"x":{"field":"x1","type":"quantitative"},"x2":{"field":"x2"},"y":{"field":"lo","type":"quantitative"},"y2":{"field":"hi"}}},
    {"data":{"name":"ptR"},"transform":[{"fold":["x1","x2"],"as":["edge","xe"]}],"mark":{"type":"line","strokeWidth":4},
     "encoding":{"x":{"field":"xe","type":"quantitative"},"y":{"field":"c","type":"quantitative"},
      "stroke":{"field":"model","type":"nominal","scale":{"domain":["FMNR","GMVFNS","MC@NLO"],"range":["#ff0000","#0000ff","#1a7a1a"]},"legend":null},
      "strokeDash":{"field":"model","type":"nominal","scale":{"domain":["FMNR","GMVFNS","MC@NLO"],"range":[[10,4,3,4],[1,0],[5,3]]},"legend":null},
      "order":[{"field":"b","type":"quantitative"},{"field":"edge","type":"nominal"}]}},
    {"data":{"name":"ptRD"},"transform":[{"aggregate":[{"op":"count","as":"n"}]}],"mark":{"type":"rule","color":"black","strokeWidth":2.5},
     "encoding":{"y":{"datum":1,"type":"quantitative"}}},
    {"data":{"name":"ptRD"},"mark":{"type":"rule","color":"black","strokeWidth":2},
     "encoding":{"x":{"field":"x","type":"quantitative"},"y":{"field":"lo","type":"quantitative"},"y2":{"field":"hi"}}},
    {"data":{"name":"ptRD"},"transform":[{"fold":["slo","shi"],"as":["k","sv"]}],"mark":{"type":"point","shape":"stroke","size":196,"stroke":"black","strokeWidth":2,"opacity":1},
     "encoding":{"x":{"field":"x","type":"quantitative"},"y":{"field":"sv","type":"quantitative"}}},
    {"data":{"name":"ptRD"},"mark":{"type":"point","filled":true,"size":170,"opacity":1,"color":"black"},
     "encoding":{"x":{"field":"x","type":"quantitative"},"y":{"field":"y","type":"quantitative"}}}
   ]},
   {"width":567,"height":193,
    "layer":[
     {"data":{"name":"etaR"},"transform":[{"filter":"datum.model==='FMNR'"}],"mark":{"type":"rect","strokeWidth":0},
      "encoding":{
       "x":{"field":"x1","type":"quantitative","scale":{"domain":[-1.5,1.5],"nice":false,"zero":false},"axis":{"orient":"bottom","values":[-1.5,-1.25,-1,-0.75,-0.5,-0.25,0,0.25,0.5,0.75,1,1.25,1.5],"format":".1~f","labelExpr":"datum.value*2 % 1 !== 0 ? '' : datum.value === 1.5 ? '1.' : replace(datum.label,'−','-')","labelPadding":8,"labelOverlap":false,"gridDash":{"condition":{"test":"datum.value*2 % 1 === 0","value":[13,167]},"value":[7,179]},"title":"η(D*)","titleX":567,"titleY":82,"titleAlign":"right","titleBaseline":"alphabetic","titleAngle":0}},
       "x2":{"field":"x2"},
       "y":{"field":"lo","type":"quantitative","scale":{"domain":[0.4,1.8],"nice":false,"zero":false},"axis":{"orient":"left","values":[0.5,1,1.5],"format":".1~f","labelPadding":7,"labelOverlap":false,"gridDash":[13,541],"title":"Rⁿᵒʳᵐ","titleX":-58,"titleY":0,"titleAngle":270,"titleAlign":"right","titleBaseline":"alphabetic"}},
       "y2":{"field":"hi"},
       "fill":{"field":"model","type":"nominal","legend":null}}},
     {"data":{"name":"etaR"},"transform":[{"filter":"datum.model==='GMVFNS'"}],"mark":{"type":"rect"},
      "encoding":{"x":{"field":"x1","type":"quantitative"},"x2":{"field":"x2"},"y":{"field":"lo","type":"quantitative"},"y2":{"field":"hi"}}},
     {"data":{"name":"etaR"},"transform":[{"filter":"datum.model==='MC@NLO'"}],"mark":{"type":"bar"},
      "encoding":{"x":{"field":"x1","type":"quantitative"},"x2":{"field":"x2"},"y":{"field":"lo","type":"quantitative"},"y2":{"field":"hi"}}},
     {"data":{"name":"etaR"},"transform":[{"fold":["x1","x2"],"as":["edge","xe"]}],"mark":{"type":"line","strokeWidth":4},
      "encoding":{"x":{"field":"xe","type":"quantitative"},"y":{"field":"c","type":"quantitative"},
       "stroke":{"field":"model","type":"nominal","scale":{"domain":["FMNR","GMVFNS","MC@NLO"],"range":["#ff0000","#0000ff","#1a7a1a"]},"legend":null},
       "strokeDash":{"field":"model","type":"nominal","scale":{"domain":["FMNR","GMVFNS","MC@NLO"],"range":[[10,4,3,4],[1,0],[5,3]]},"legend":null},
       "order":[{"field":"b","type":"quantitative"},{"field":"edge","type":"nominal"}]}},
     {"data":{"name":"etaRD"},"transform":[{"aggregate":[{"op":"count","as":"n"}]}],"mark":{"type":"rule","color":"black","strokeWidth":2.5},
      "encoding":{"y":{"datum":1,"type":"quantitative"}}},
     {"data":{"name":"etaRD"},"mark":{"type":"rule","color":"black","strokeWidth":2},
      "encoding":{"x":{"field":"x","type":"quantitative"},"y":{"field":"lo","type":"quantitative"},"y2":{"field":"hi"}}},
     {"data":{"name":"etaRD"},"transform":[{"fold":["slo","shi"],"as":["k","sv"]}],"mark":{"type":"point","shape":"stroke","size":196,"stroke":"black","strokeWidth":2,"opacity":1},
      "encoding":{"x":{"field":"x","type":"quantitative"},"y":{"field":"sv","type":"quantitative"}}},
     {"data":{"name":"etaRD"},"mark":{"type":"point","filled":true,"size":170,"opacity":1,"color":"black"},
      "encoding":{"x":{"field":"x","type":"quantitative"},"y":{"field":"y","type":"quantitative"}}}
    ]},
   {"width":561,"height":193,
    "layer":[
     {"data":{"name":"wR"},"transform":[{"filter":"datum.model==='FMNR'"}],"mark":{"type":"rect","strokeWidth":0},
      "encoding":{
       "x":{"field":"x1","type":"quantitative","scale":{"domain":[100,285],"nice":false,"zero":false},"axis":{"orient":"bottom","values":[100,125,150,175,200,225,250,275],"format":"d","labelExpr":"datum.value % 50 === 0 ? datum.label : ''","labelPadding":8,"labelOverlap":false,"gridDash":{"condition":{"test":"datum.value % 50 === 0","value":[13,167]},"value":[7,179]},"title":"Wᵧₚ [GeV]","titleX":561,"titleY":82,"titleAlign":"right","titleBaseline":"alphabetic","titleAngle":0}},
       "x2":{"field":"x2"},
       "y":{"field":"lo","type":"quantitative","scale":{"domain":[0.4,1.8],"nice":false,"zero":false},"axis":{"orient":"left","values":[0.5,1,1.5],"format":".1~f","labelPadding":7,"labelOverlap":false,"gridDash":[13,535],"title":"Rⁿᵒʳᵐ","titleX":-55,"titleY":0,"titleAngle":270,"titleAlign":"right","titleBaseline":"alphabetic"}},
       "y2":{"field":"hi"},
       "fill":{"field":"model","type":"nominal","legend":null}}},
     {"data":{"name":"wR"},"transform":[{"filter":"datum.model==='GMVFNS'"}],"mark":{"type":"rect"},
      "encoding":{"x":{"field":"x1","type":"quantitative"},"x2":{"field":"x2"},"y":{"field":"lo","type":"quantitative"},"y2":{"field":"hi"}}},
     {"data":{"name":"wR"},"transform":[{"filter":"datum.model==='MC@NLO'"}],"mark":{"type":"bar"},
      "encoding":{"x":{"field":"x1","type":"quantitative"},"x2":{"field":"x2"},"y":{"field":"lo","type":"quantitative"},"y2":{"field":"hi"}}},
     {"data":{"name":"wR"},"transform":[{"fold":["x1","x2"],"as":["edge","xe"]}],"mark":{"type":"line","strokeWidth":4},
      "encoding":{"x":{"field":"xe","type":"quantitative"},"y":{"field":"c","type":"quantitative"},
       "stroke":{"field":"model","type":"nominal","scale":{"domain":["FMNR","GMVFNS","MC@NLO"],"range":["#ff0000","#0000ff","#1a7a1a"]},"legend":null},
       "strokeDash":{"field":"model","type":"nominal","scale":{"domain":["FMNR","GMVFNS","MC@NLO"],"range":[[10,4,3,4],[1,0],[5,3]]},"legend":null},
       "order":[{"field":"b","type":"quantitative"},{"field":"edge","type":"nominal"}]}},
     {"data":{"name":"wRD"},"transform":[{"aggregate":[{"op":"count","as":"n"}]}],"mark":{"type":"rule","color":"black","strokeWidth":2.5},
      "encoding":{"y":{"datum":1,"type":"quantitative"}}},
     {"data":{"name":"wRD"},"mark":{"type":"rule","color":"black","strokeWidth":2},
      "encoding":{"x":{"field":"x","type":"quantitative"},"y":{"field":"lo","type":"quantitative"},"y2":{"field":"hi"}}},
     {"data":{"name":"wRD"},"transform":[{"fold":["slo","shi"],"as":["k","sv"]}],"mark":{"type":"point","shape":"stroke","size":196,"stroke":"black","strokeWidth":2,"opacity":1},
      "encoding":{"x":{"field":"x","type":"quantitative"},"y":{"field":"sv","type":"quantitative"}}},
     {"data":{"name":"wRD"},"mark":{"type":"point","filled":true,"size":170,"opacity":1,"color":"black"},
      "encoding":{"x":{"field":"x","type":"quantitative"},"y":{"field":"y","type":"quantitative"}}}
    ]}
]
}
